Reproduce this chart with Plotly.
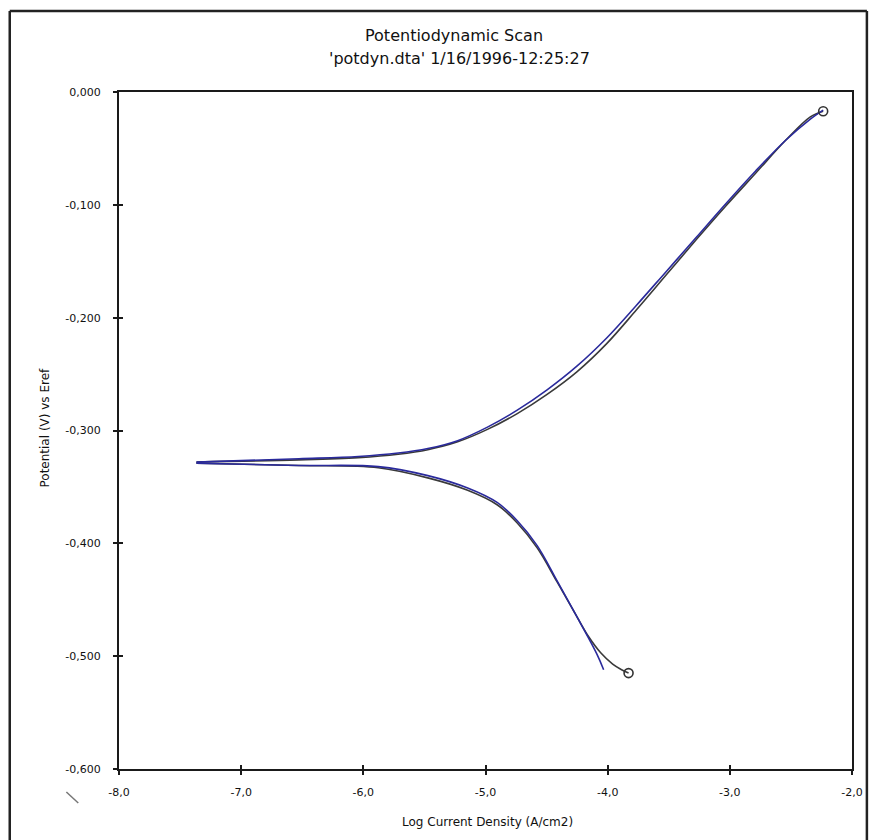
import plotly.graph_objects as go

# ---------------- data ----------------
anodic_fit_x = [-7.366, -6.528, -6.041, -5.715, -5.472, -5.228, -4.984, -4.740, -4.496,
                -4.252, -4.008, -3.764, -3.520, -3.276, -3.033, -2.789, -2.545, -2.341, -2.236]
anodic_fit_y = [-0.328, -0.325, -0.323, -0.320, -0.316, -0.309, -0.297, -0.282, -0.264,
                -0.243, -0.218, -0.189, -0.159, -0.129, -0.099, -0.070, -0.043, -0.024, -0.016]

anodic_meas_x = [-7.366, -6.528, -6.041, -5.715, -5.472, -5.228, -4.984, -4.740, -4.496,
                 -4.252, -4.008, -3.764, -3.520, -3.276, -3.033, -2.789, -2.545, -2.341, -2.236]
anodic_meas_y = [-0.328, -0.326, -0.324, -0.321, -0.317, -0.310, -0.299, -0.285, -0.268,
                 -0.248, -0.223, -0.193, -0.162, -0.131, -0.101, -0.072, -0.043, -0.022, -0.017]

cathodic_fit_x = [-7.366, -6.528, -5.878, -5.472, -5.146, -4.902, -4.740, -4.577, -4.415,
                  -4.252, -4.089, -4.033]
cathodic_fit_y = [-0.329, -0.331, -0.332, -0.340, -0.351, -0.364, -0.380, -0.402, -0.433,
                  -0.465, -0.498, -0.512]

cathodic_meas_x = [-7.366, -6.528, -5.878, -5.472, -5.146, -4.902, -4.740, -4.577, -4.415,
                   -4.252, -4.154, -4.057, -3.959, -3.886, -3.829]
cathodic_meas_y = [-0.329, -0.331, -0.333, -0.342, -0.353, -0.366, -0.382, -0.404, -0.434,
                   -0.465, -0.483, -0.497, -0.507, -0.512, -0.515]

x_tickvals = [-8, -7, -6, -5, -4, -3, -2]
x_ticktext = ["-8,0", "-7,0", "-6,0", "-5,0", "-4,0", "-3,0", "-2,0"]
y_tickvals = [0.0, -0.1, -0.2, -0.3, -0.4, -0.5, -0.6]
y_ticktext = ["0,000", "-0,100", "-0,200", "-0,300", "-0,400", "-0,500", "-0,600"]

title_line1 = "Potentiodynamic Scan"
title_line2 = "'potdyn.dta' 1/16/1996-12:25:27"
x_title = "Log Current Density (A/cm2)"
y_title = "Potential (V) vs Eref"

# ---------------- layout geometry (pixels) ----------------
W, H = 875, 840
L, R, T, B = 119, 857, 92, 769


def px(x):
    return (x - L) / (R - L)


def py(y):
    return (B - y) / (B - T)


FONT = "DejaVu Sans"
MEAS_COLOR = "#3a3a3a"
FIT_COLOR = "#2a2a9c"

fig = go.Figure()

line_meas = dict(color=MEAS_COLOR, width=1.6, shape="spline", smoothing=1.0)
line_fit = dict(color=FIT_COLOR, width=1.6, shape="spline", smoothing=1.0)

fig.add_trace(go.Scatter(x=anodic_meas_x, y=anodic_meas_y, mode="lines",
                         line=line_meas, showlegend=False, hoverinfo="skip"))
fig.add_trace(go.Scatter(x=cathodic_meas_x, y=cathodic_meas_y, mode="lines",
                         line=line_meas, showlegend=False, hoverinfo="skip"))
fig.add_trace(go.Scatter(x=anodic_fit_x, y=anodic_fit_y, mode="lines",
                         line=line_fit, showlegend=False))
fig.add_trace(go.Scatter(x=cathodic_fit_x, y=cathodic_fit_y, mode="lines",
                         line=line_fit, showlegend=False))
# end markers of the measured scan
fig.add_trace(go.Scatter(x=[anodic_meas_x[-1], cathodic_meas_x[-1]],
                         y=[anodic_meas_y[-1], cathodic_meas_y[-1]],
                         mode="markers",
                         marker=dict(symbol="circle-open", size=9,
                                     color="#333333", line=dict(width=1.6)),
                         showlegend=False))
# empty trace to activate the overlay axes (inside tick halves)
fig.add_trace(go.Scatter(x=[], y=[], xaxis="x2", yaxis="y2", showlegend=False))

axis_common = dict(showgrid=False, zeroline=False, showline=True,
                   linecolor="#1a1a1a", linewidth=2, mirror=True,
                   ticks="outside", ticklen=4, tickwidth=1.5, tickcolor="#1a1a1a",
                   tickfont=dict(family=FONT, size=11, color="#111"))

fig.update_layout(
    width=W, height=H,
    margin=dict(l=L, r=W - R, t=T, b=H - B),
    paper_bgcolor="white", plot_bgcolor="white",
    showlegend=False,
    xaxis=dict(range=[-8, -2], tickvals=x_tickvals, ticktext=x_ticktext,
               ticklabelstandoff=8, **axis_common),
    yaxis=dict(range=[-0.6, 0.0], tickvals=y_tickvals, ticktext=y_ticktext,
               ticklabelstandoff=10, **axis_common),
    xaxis2=dict(range=[-8, -2], overlaying="x", side="bottom", tickvals=x_tickvals,
                showticklabels=False, showgrid=False, zeroline=False, showline=False,
                ticks="inside", ticklen=4, tickwidth=1.5, tickcolor="#1a1a1a"),
    yaxis2=dict(range=[-0.6, 0.0], overlaying="y", side="left", tickvals=y_tickvals,
                showticklabels=False, showgrid=False, zeroline=False, showline=False,
                ticks="inside", ticklen=4, tickwidth=1.5, tickcolor="#1a1a1a"),
)

# titles
fig.add_annotation(text=title_line1, xref="paper", yref="paper",
                   x=px(456), y=py(36), xanchor="center", yanchor="middle",
                   showarrow=False, font=dict(family=FONT, size=16, color="#111"))
fig.add_annotation(text=title_line2, xref="paper", yref="paper",
                   x=px(462), y=py(58), xanchor="center", yanchor="middle",
                   showarrow=False, font=dict(family=FONT, size=16, color="#111"))
fig.add_annotation(text=x_title, xref="paper", yref="paper",
                   x=px(490), y=py(822), xanchor="center", yanchor="middle",
                   showarrow=False, font=dict(family=FONT, size=12, color="#111"))
fig.add_annotation(text=y_title, xref="paper", yref="paper",
                   x=px(44), y=py(428), xanchor="center", yanchor="middle",
                   textangle=-90, showarrow=False,
                   font=dict(family=FONT, size=12, color="#111"))

# outer frame (left, top, right)
frame = dict(type="line", xref="paper", yref="paper",
             line=dict(color="#222222", width=2.5))
fig.add_shape(x0=px(9), x1=px(9), y0=py(11), y1=py(845), **frame)
fig.add_shape(x0=px(9), x1=px(872), y0=py(11), y1=py(11), **frame)
fig.add_shape(x0=px(872), x1=px(872), y0=py(11), y1=py(845), **frame)
# small slash mark at lower left
fig.add_shape(type="line", xref="paper", yref="paper",
              x0=px(66), y0=py(792), x1=px(78), y1=py(803),
              line=dict(color="#777777", width=1.5))

fig.write_html("out.html")
